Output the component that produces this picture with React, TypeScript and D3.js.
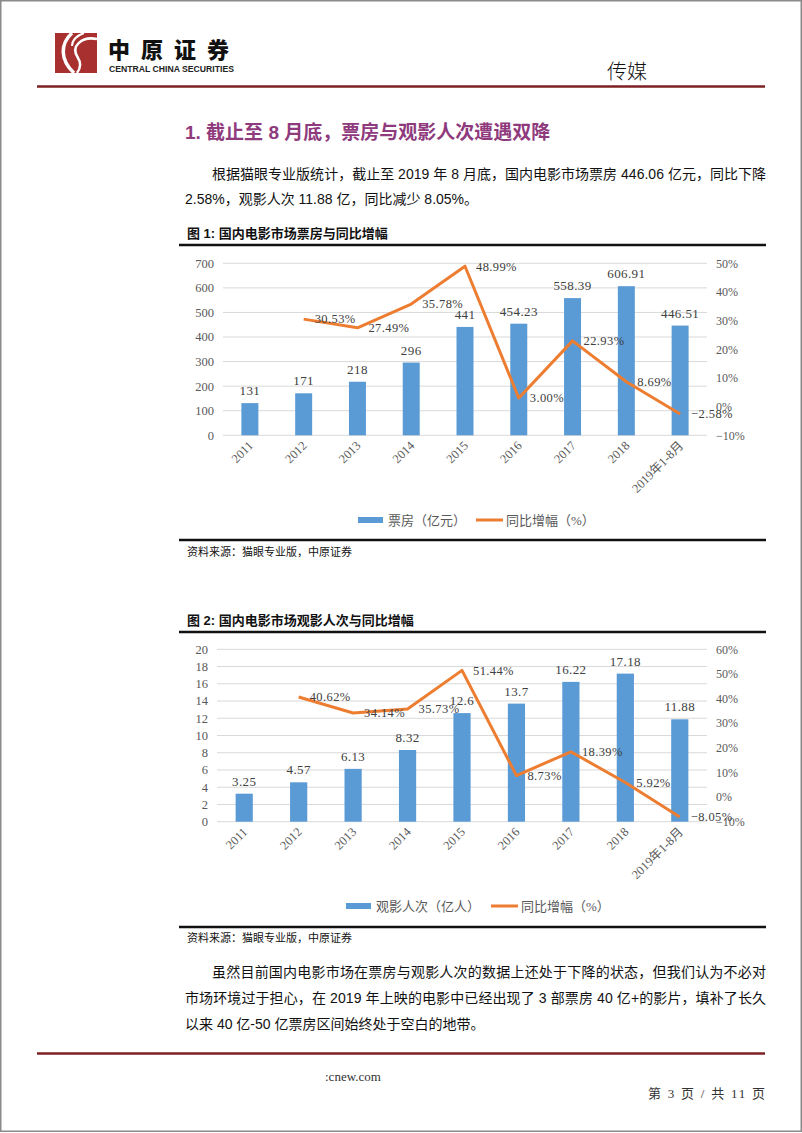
import { useMemo } from "react";
import * as d3 from "d3";

const years = ["2011", "2012", "2013", "2014", "2015", "2016", "2017", "2018", "2019年1-8月"];
const boxOffice = [131, 171, 218, 296, 441, 454.23, 558.39, 606.91, 446.51];
const boxOfficeGrowth = [null, 30.53, 27.49, 35.78, 48.99, 3.0, 22.93, 8.69, -2.58];
const admissions = [3.25, 4.57, 6.13, 8.32, 12.6, 13.7, 16.22, 17.18, 11.88];
const admissionsGrowth = [null, 40.62, 34.14, 35.73, 51.44, 8.73, 18.39, 5.92, -8.05];

const boxOfficeTicks = [0, 100, 200, 300, 400, 500, 600, 700];
const boxOfficeGrowthTicks = [-10, 0, 10, 20, 30, 40, 50];
const admissionsTicks = [0, 2, 4, 6, 8, 10, 12, 14, 16, 18, 20];
const admissionsGrowthTicks = [-10, 0, 10, 20, 30, 40, 50, 60];

const BLUE = "#5B9BD5";
const ORANGE = "#ED7D31";
const GRID = "#D9D9D9";
const AXIS_TEXT = "#595959";
const SERIF = "'Liberation Serif', 'Noto Sans CJK SC', serif";
const SANS = "'Liberation Sans', 'Noto Sans CJK SC', sans-serif";
const DARKRED = "#7E1F23";

type ComboProps = {
  bars: number[];
  line: (number | null)[];
  leftTicks: number[];
  rightTicks: number[];
  left: number;
  right: number;
  top: number;
  bottom: number;
  barLabel: (v: number) => string;
  legendBar: string;
  legendX: number;
  legendY: number;
  legendGap: number;
};

const fmtPct = (v: number) => `${v.toFixed(2)}%`.replace("-", "−");

const ComboChart = (p: ComboProps) => {
  const x = useMemo(
    () => d3.scaleBand<string>().domain(years).range([p.left, p.right]).paddingInner(0.684).paddingOuter(0.342),
    [p.left, p.right]
  );
  const yL = d3.scaleLinear().domain(d3.extent(p.leftTicks) as [number, number]).range([p.bottom, p.top]);
  const yR = d3.scaleLinear().domain(d3.extent(p.rightTicks) as [number, number]).range([p.bottom, p.top]);
  const cx = (i: number) => (x(years[i]) ?? 0) + x.bandwidth() / 2;

  const linePath = d3
    .line<number | null>()
    .defined((d) => d !== null)
    .x((_, i) => cx(i))
    .y((d) => yR(d as number))(p.line);

  return (
    <g>
      {p.leftTicks.map((t) => (
        <g key={"g" + t}>
          <line x1={p.left} x2={p.right} y1={yL(t)} y2={yL(t)} stroke={GRID} strokeWidth={1} />
          <text x={p.left - 9} y={yL(t)} dy="0.35em" textAnchor="end" fontSize={12.5} fill={AXIS_TEXT} fontFamily={SERIF}>
            {t}
          </text>
        </g>
      ))}
      {p.rightTicks.map((t) => (
        <text key={"r" + t} x={p.right + 9} y={yR(t)} dy="0.35em" fontSize={12} fill={AXIS_TEXT} fontFamily={SERIF}>
          {`${t}%`.replace("-", "−")}
        </text>
      ))}
      {p.bars.map((v, i) => (
        <g key={"b" + i}>
          <rect x={x(years[i])} y={yL(v)} width={x.bandwidth()} height={p.bottom - yL(v)} fill={BLUE} />
          <text x={cx(i)} y={yL(v) - 8} textAnchor="middle" fontSize={13} fill="#404040" fontFamily={SERIF} letterSpacing={0.4}>
            {p.barLabel(v)}
          </text>
        </g>
      ))}
      <path d={linePath || undefined} fill="none" stroke={ORANGE} strokeWidth={3} strokeLinejoin="round" />
      {p.line.map((v, i) =>
        v === null ? null : (
          <text key={"l" + i} x={cx(i) + 11} y={yR(v)} dy="0.35em" fontSize={12.5} fill="#404040" fontFamily={SERIF} letterSpacing={0.4}>
            {fmtPct(v)}
          </text>
        )
      )}
      {years.map((yr, i) => (
        <text
          key={"x" + i}
          transform={`translate(${cx(i) + 4},${p.bottom + 11}) rotate(-45)`}
          textAnchor="end"
          fontSize={12.5}
          fill={AXIS_TEXT}
          fontFamily={SERIF}
        >
          {yr}
        </text>
      ))}
      <rect x={p.legendX} y={p.legendY - 3} width={25} height={6} fill={BLUE} />
      <text x={p.legendX + 30} y={p.legendY} dy="0.35em" fontSize={13} fill={AXIS_TEXT} fontFamily={SERIF}>
        {p.legendBar}
      </text>
      <line
        x1={p.legendX + p.legendGap}
        x2={p.legendX + p.legendGap + 27}
        y1={p.legendY}
        y2={p.legendY}
        stroke={ORANGE}
        strokeWidth={3}
      />
      <text x={p.legendX + p.legendGap + 30} y={p.legendY} dy="0.35em" fontSize={13} fill={AXIS_TEXT} fontFamily={SERIF}>
        同比增幅（%）
      </text>
    </g>
  );
};

const App = () => {
  return (
    <svg width={802} height={1133} style={{ position: "absolute", left: 0, top: 0, background: "#fff" }}>
      <rect x={0} y={0} width={802} height={1133} fill="#fff" />
      <rect x={0.75} y={0.75} width={800.5} height={1130.5} fill="none" stroke="#8a8a8a" strokeWidth={1.5} />

      {/* header */}
      <rect x={55} y={33} width={42} height={40} fill="#A8302F" />
      <path d="M72,33 C60,44 60,60 74,73" fill="none" stroke="#fff" strokeWidth={3.5} />
      <path d="M97,39 C82,36 70,46 78,58 C82,64 80,69 77,73" fill="none" stroke="#fff" strokeWidth={2.5} />
      <path d="M84,33 C76,36 72,40 72,46" fill="none" stroke="#fff" strokeWidth={2} />
      <text x={108} y={58} fontSize={22} fontWeight={900} letterSpacing={11} fill="#111" fontFamily="'Noto Sans CJK SC'">
        中原证券
      </text>
      <text x={109} y={71.5} fontSize={8.5} fontWeight="bold" fill="#222" fontFamily={SANS} textLength={125} lengthAdjust="spacingAndGlyphs">
        CENTRAL CHINA SECURITIES
      </text>
      <text x={607} y={79} fontSize={20} fill="#111" fontFamily="'Noto Sans CJK SC'" fontWeight={300}>
        传媒
      </text>
      <line x1={37} x2={765} y1={86.5} y2={86.5} stroke={DARKRED} strokeWidth={2.5} />

      {/* section heading */}
      <text x={185} y={139} fontSize={19} fontWeight="bold" fill="#8E3A7C" fontFamily={SANS}>
        1. 截止至 8 月底，票房与观影人次遭遇双降
      </text>
      <text x={212} y={179} fontSize={14} fill="#111" fontFamily={SANS} textLength={554} lengthAdjust="spacing">
        根据猫眼专业版统计，截止至 2019 年 8 月底，国内电影市场票房 446.06 亿元，同比下降
      </text>
      <text x={185} y={204} fontSize={14} fill="#111" fontFamily={SANS}>
        2.58%，观影人次 11.88 亿，同比减少 8.05%。
      </text>

      {/* figure 1 */}
      <text x={187} y={238} fontSize={13} fontWeight="bold" fill="#111" fontFamily={SANS}>
        图 1:  国内电影市场票房与同比增幅
      </text>
      <line x1={179} x2={766} y1={245} y2={245} stroke="#111" strokeWidth={2.5} />
      <ComboChart
        bars={boxOffice}
        line={boxOfficeGrowth}
        leftTicks={boxOfficeTicks}
        rightTicks={boxOfficeGrowthTicks}
        left={223}
        right={707}
        top={263.3}
        bottom={435.3}
        barLabel={(v) => String(v)}
        legendBar="票房（亿元）"
        legendX={358}
        legendY={520}
        legendGap={118}
      />
      <line x1={179} x2={766} y1={540} y2={540} stroke="#111" strokeWidth={2.5} />
      <text x={187} y={556} fontSize={11} fill="#111" fontFamily={SANS}>
        资料来源：猫眼专业版，中原证券
      </text>

      {/* figure 2 */}
      <text x={187} y={625} fontSize={13} fontWeight="bold" fill="#111" fontFamily={SANS}>
        图 2:  国内电影市场观影人次与同比增幅
      </text>
      <line x1={179} x2={766} y1={632} y2={632} stroke="#111" strokeWidth={2.5} />
      <ComboChart
        bars={admissions}
        line={admissionsGrowth}
        leftTicks={admissionsTicks}
        rightTicks={admissionsGrowthTicks}
        left={217}
        right={707}
        top={649.3}
        bottom={821.7}
        barLabel={(v) => String(v)}
        legendBar="观影人次（亿人）"
        legendX={346}
        legendY={906}
        legendGap={145}
      />
      <line x1={179} x2={766} y1={927} y2={927} stroke="#111" strokeWidth={2.5} />
      <text x={187} y={942} fontSize={11} fill="#111" fontFamily={SANS}>
        资料来源：猫眼专业版，中原证券
      </text>

      {/* closing paragraph */}
      <text x={212} y={977} fontSize={14} fill="#111" fontFamily={SANS} textLength={554} lengthAdjust="spacing">
        虽然目前国内电影市场在票房与观影人次的数据上还处于下降的状态，但我们认为不必对
      </text>
      <text x={185} y={1003} fontSize={14} fill="#111" fontFamily={SANS} textLength={581} lengthAdjust="spacing">
        市场环境过于担心，在 2019 年上映的电影中已经出现了 3 部票房 40 亿+的影片，填补了长久
      </text>
      <text x={185} y={1029} fontSize={14} fill="#111" fontFamily={SANS}>
        以来 40 亿-50 亿票房区间始终处于空白的地带。
      </text>

      {/* footer */}
      <line x1={37} x2={765} y1={1053.5} y2={1053.5} stroke={DARKRED} strokeWidth={2.5} />
      <text x={325} y={1081} fontSize={13} fill="#333" fontFamily={SERIF}>
        :cnew.com
      </text>
      <text x={648} y={1098} fontSize={13} fill="#333" fontFamily={SERIF} textLength={117} lengthAdjust="spacing">
        第 3 页 / 共 11 页
      </text>
    </svg>
  );
};

export default App;
